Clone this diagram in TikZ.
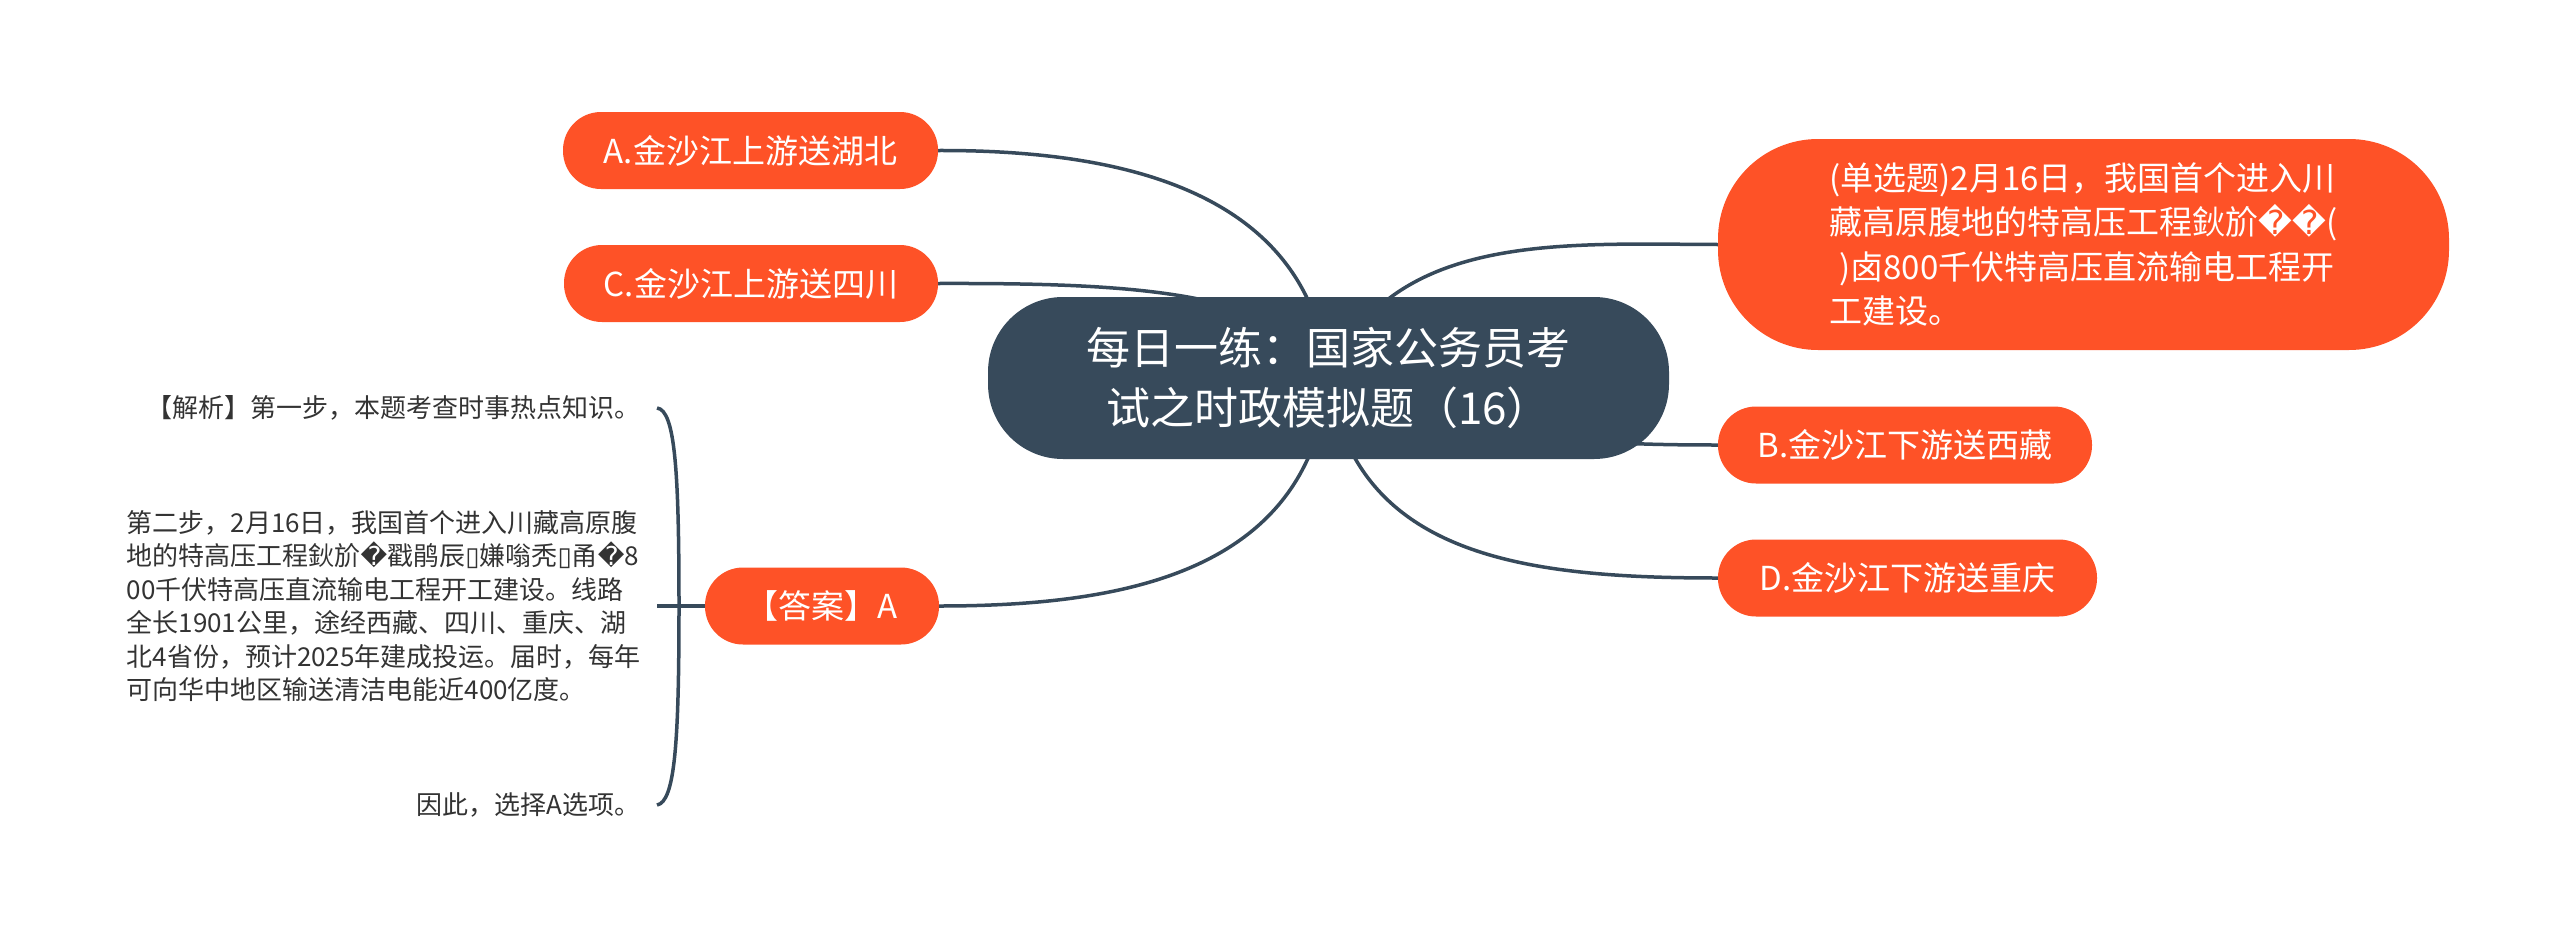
\documentclass[tikz,border=0pt]{standalone}
\usepackage{fontspec}
\setmainfont{Noto Sans CJK SC}
\newfontfamily\symfont{DejaVu Sans}
\usetikzlibrary{backgrounds}

\definecolor{rootblue}{HTML}{374A5B}
\definecolor{leaforange}{HTML}{FE5227}
\newcommand{\badchar}{{\symfont\symbol{"FFFD}}}
\newcommand{\tofu}{{\symfont\symbol{"25AF}}}

\tikzset{
  root/.style={rectangle,rounded corners=75pt,fill=rootblue,text=white,inner sep=0pt,align=center,
    minimum width=681pt,minimum height=162pt,font=\fontsize{44pt}{60pt}\selectfont},
  leaf/.style={rectangle,rounded corners=38pt,fill=leaforange,text=white,inner sep=0pt,
    minimum height=77pt,font=\fontsize{33pt}{44.5pt}\selectfont},
  note/.style={anchor=east,inner ysep=0pt,inner xsep=16pt,align=left,text=black!80,
    font=\fontsize{26pt}{33.4pt}\selectfont},
  link/.style={draw=rootblue,line width=3.5pt}
}

\begin{document}
\begin{tikzpicture}[x=1pt,y=-1pt]
   \useasboundingbox (0,0) rectangle (2560,945);

   \node[root] (root) at (1328.5,378) {每日一练：国家公务员考\\试之时政模拟题（16）};

   \node[leaf,minimum width=375pt] (a) at (750.5,150.5) {A.金沙江上游送湖北};
   \node[leaf,minimum width=374pt] (c) at (751,283.5) {C.金沙江上游送四川};
   \node[leaf,minimum width=234pt] (answer) at (822,606) {【答案】A};
   \node[leaf,minimum width=374pt] (b) at (1905,445) {B.金沙江下游送西藏};
   \node[leaf,minimum width=379pt] (d) at (1907.5,578) {D.金沙江下游送重庆};
   \node[leaf,minimum width=731pt,minimum height=211pt,rounded corners=100pt,align=left] (question) at (2083.5,244.5)
     {(单选题)2月16日，我国首个进入川\\
      藏高原腹地的特高压工程鈥斺\badchar\badchar(\\
      \hspace*{.3em})卤800千伏特高压直流输电工程开\\
      工建设。};

   \node[note] (step1) at (657,408) {【解析】第一步，本题考查时事热点知识。};
   \node[note] (step2) at (657,606)
     {第二步，2月16日，我国首个进入川藏高原腹\\
      地的特高压工程鈥斺\badchar 戳鹃辰\tofu 嫌嗡秃\tofu 甬\badchar 8\\
      00千伏特高压直流输电工程开工建设。线路\\
      全长1901公里，途经西藏、四川、重庆、湖\\
      北4省份，预计2025年建成投运。届时，每年\\
      可向华中地区输送清洁电能近400亿度。};
   \node[note] (step3) at (657,805) {因此，选择A选项。};

   \coordinate (brace) at (679,606);

   \begin{scope}[on background layer]
     \draw[link] (root.center) .. controls (1310,185) and (1110,150) .. (a.east);
     \draw[link] (root.center) .. controls (1290,290) and (1130,283) .. (c.east);
     \draw[link] (root.center) .. controls (1310,570) and (1130,606) .. (answer.east);
     \draw[link] (root.center) .. controls (1390,232) and (1560,244) .. (question.west);
     \draw[link] (root.center) .. controls (1450,440) and (1600,445) .. (b.west);
     \draw[link] (root.center) .. controls (1355,555) and (1520,578) .. (d.west);
     \draw[link] (answer.west) -- (step2.east);
     \draw[link] (step1.east) .. controls (675,410) and (679,470) .. (brace)
        .. controls (679,742) and (675,802) .. (step3.east);
   \end{scope}
\end{tikzpicture}
\end{document}
